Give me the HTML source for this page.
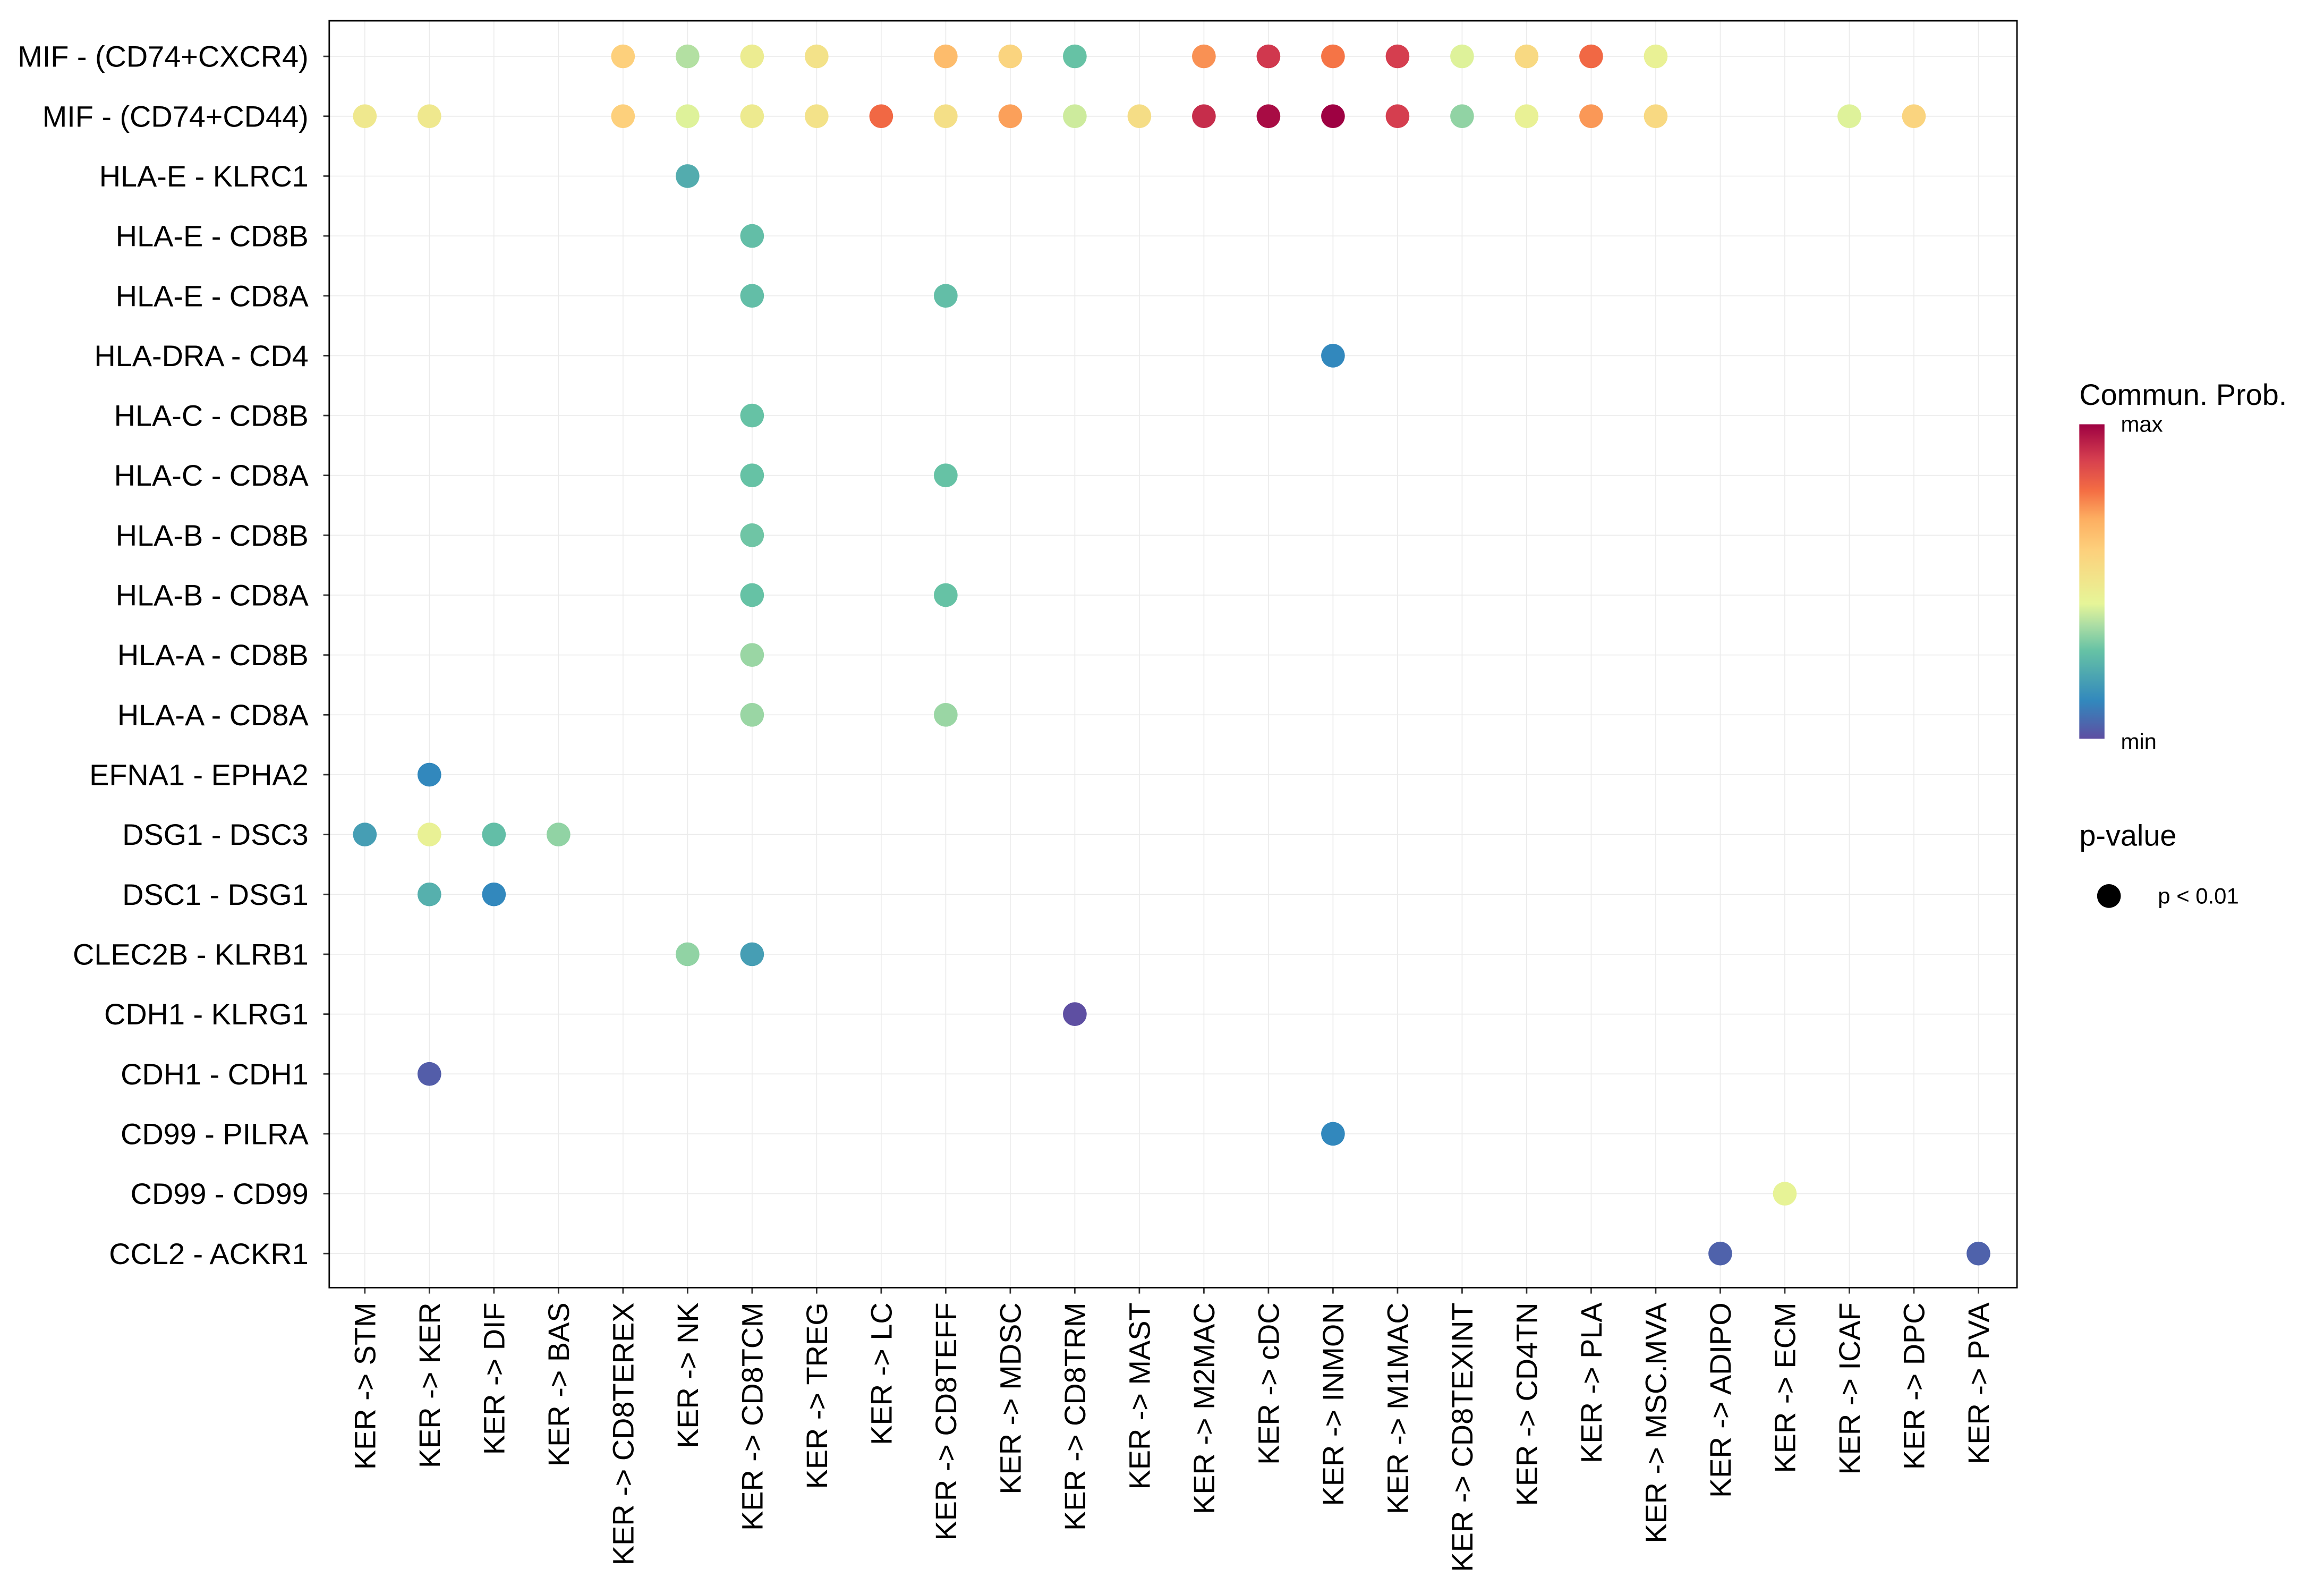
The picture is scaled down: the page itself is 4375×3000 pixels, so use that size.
<!DOCTYPE html>
<html><head><meta charset="utf-8"><style>html,body{margin:0;padding:0;background:#fff}svg{display:block}</style></head>
<body>
<svg id="chart" xmlns="http://www.w3.org/2000/svg" width="4375" height="3000" viewBox="0 0 1567 1074.5" preserveAspectRatio="none" font-family="Liberation Sans, sans-serif">
<defs><linearGradient id="grad" x1="0" y1="1" x2="0" y2="0">
<stop offset="0" stop-color="#5E4FA2"/><stop offset="0.12" stop-color="#3288BD"/><stop offset="0.28" stop-color="#66C2A5"/><stop offset="0.36" stop-color="#ABDDA4"/><stop offset="0.43" stop-color="#E6F598"/><stop offset="0.5" stop-color="#F0E68C"/><stop offset="0.6" stop-color="#FDD07C"/><stop offset="0.7" stop-color="#FDAE61"/><stop offset="0.79" stop-color="#F46D43"/><stop offset="0.89" stop-color="#D53E4F"/><stop offset="1" stop-color="#9E0142"/></linearGradient></defs>
<g id="grid"></g><g id="dots"></g><g id="ylabels"></g><g id="xlabels"></g>
<rect x="222" y="14" width="1138" height="854" fill="none" stroke="#000" stroke-width="1"/>
<text x="1402" y="273" font-size="20">Commun. Prob.</text>
<rect x="1402" y="286" width="17" height="212" fill="url(#grad)"/>
<text x="1430" y="291" font-size="15">max</text>
<text x="1430" y="505" font-size="15">min</text>
<text x="1402" y="570" font-size="20">p-value</text>
<circle cx="1422" cy="604" r="8" fill="#000"/>
<text x="1455" y="609" font-size="15">p &lt; 0.01</text>
</svg>
<script>
const columns=["KER -> STM","KER -> KER","KER -> DIF","KER -> BAS","KER -> CD8TEREX","KER -> NK","KER -> CD8TCM","KER -> TREG","KER -> LC","KER -> CD8TEFF","KER -> MDSC","KER -> CD8TRM","KER -> MAST","KER -> M2MAC","KER -> cDC","KER -> INMON","KER -> M1MAC","KER -> CD8TEXINT","KER -> CD4TN","KER -> PLA","KER -> MSC.MVA","KER -> ADIPO","KER -> ECM","KER -> ICAF","KER -> DPC","KER -> PVA"];
const rows=["MIF - (CD74+CXCR4)","MIF - (CD74+CD44)","HLA-E - KLRC1","HLA-E - CD8B","HLA-E - CD8A","HLA-DRA - CD4","HLA-C - CD8B","HLA-C - CD8A","HLA-B - CD8B","HLA-B - CD8A","HLA-A - CD8B","HLA-A - CD8A","EFNA1 - EPHA2","DSG1 - DSC3","DSC1 - DSG1","CLEC2B - KLRB1","CDH1 - KLRG1","CDH1 - CDH1","CD99 - PILRA","CD99 - CD99","CCL2 - ACKR1"];
const pointRow=[0,0,0,0,0,0,0,0,0,0,0,0,0,0,0, 1,1,1,1,1,1,1,1,1,1,1,1,1,1,1,1,1,1,1,1,1, 2,3,4,4,5,6,7,7,8,9,9,10,11,11,12,13,13,13,13,14,14,15,15,16,17,18,19,20,20];
const pointCol=[4,5,6,7,9,10,11,13,14,15,16,17,18,19,20, 0,1,4,5,6,7,8,9,10,11,12,13,14,15,16,17,18,19,20,23,24, 5,6,6,9,15,6,6,9,6,6,9,6,6,9,1,0,1,2,3,1,2,5,6,11,1,15,22,21,25];
const pointProb=[0.6,0.37,0.47,0.52,0.66,0.58,0.28,0.74,0.9,0.78,0.89,0.42,0.56,0.8,0.45, 0.49,0.49,0.6,0.42,0.48,0.52,0.8,0.53,0.72,0.4,0.54,0.92,0.98,1.0,0.89,0.33,0.45,0.73,0.56,0.42,0.58, 0.22,0.27,0.27,0.27,0.12,0.28,0.28,0.28,0.29,0.28,0.28,0.34,0.34,0.34,0.12,0.18,0.45,0.27,0.33,0.23,0.12,0.33,0.18,0.0,0.03,0.12,0.44,0.04,0.04];
const stopPos=[0,0.12,0.28,0.36,0.43,0.5,0.6,0.7,0.79,0.89,1];
const pal=["#5E4FA2","#3288BD","#66C2A5","#ABDDA4","#E6F598","#F0E68C","#FDD07C","#FDAE61","#F46D43","#D53E4F","#9E0142"];
const NS="http://www.w3.org/2000/svg";
function xs(i){return 246+i*(1334-246)/(columns.length-1);}
function ys(i){return 38+i*(845-38)/(rows.length-1);}
function hex(h){return [1,3,5].map(k=>parseInt(h.substr(k,2),16));}
function color(v){v=Math.max(0,Math.min(1,v));let i=0;while(i<stopPos.length-2&&v>stopPos[i+1])i++;const f=(v-stopPos[i])/(stopPos[i+1]-stopPos[i]);const a=hex(pal[i]),b=hex(pal[i+1]);return "rgb("+a.map((c,k)=>Math.round(c+(b[k]-c)*f)).join(",")+")";}
function mk(tag,attrs,parent){const e=document.createElementNS(NS,tag);for(const k in attrs)e.setAttribute(k,attrs[k]);parent.appendChild(e);return e;}
const grid=document.getElementById("grid"),dots=document.getElementById("dots"),yl=document.getElementById("ylabels"),xl=document.getElementById("xlabels");
columns.forEach((c,i)=>{
 const l=mk("line",{x1:xs(i),x2:xs(i),y1:14,y2:868,stroke:"#ebebeb","stroke-width":0.6},grid);
 
 
 const t=mk("text",{x:0,y:0,"font-size":20,"text-anchor":"end",transform:"translate("+(xs(i)+7)+",878) rotate(-90)"},xl);
 t.textContent=c;
 
 
 const tk=mk("line",{x1:xs(i),x2:xs(i),y1:868,y2:872,stroke:"#333","stroke-width":1},xl);
 
 
});
rows.forEach((r,i)=>{
 const l=mk("line",{x1:222,x2:1360,y1:ys(i),y2:ys(i),stroke:"#ebebeb","stroke-width":0.6},grid);
 
 
 const t=mk("text",{x:208,y:ys(i)+7,"font-size":20,"text-anchor":"end"},yl);
 t.textContent=r;
 
 
 const tk=mk("line",{x1:218,x2:222,y1:ys(i),y2:ys(i),stroke:"#333","stroke-width":1},yl);
 
 
});
pointProb.forEach((v,k)=>{
 const c=mk("circle",{cx:xs(pointCol[k]),cy:ys(pointRow[k]),r:8,fill:color(v)},dots);
 
 
});
</script>
</body></html>
